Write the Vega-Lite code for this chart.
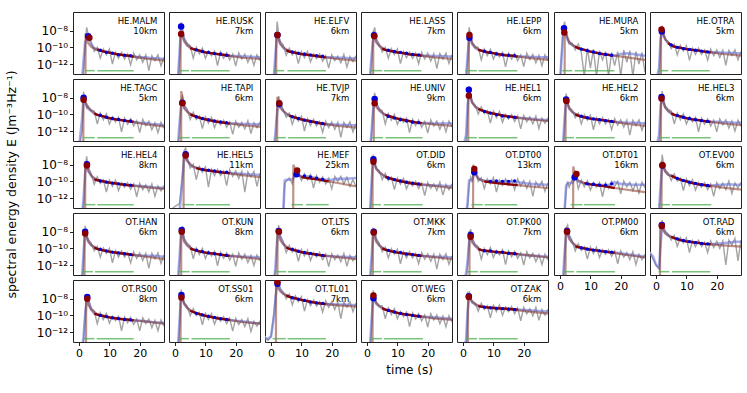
{
"$schema":"https://vega.github.io/schema/vega-lite/v6.json",
"padding":{"left":5,"top":10,"right":5,"bottom":5},
"title":{"text":"time (s)","orient":"bottom","anchor":"middle","fontSize":12,"fontWeight":"normal","font":"DejaVu Sans","offset":6,"dx":36},
"spacing":4,
"data":{"values":[
{"s":1,"t":0,"g":-14,"b":-14},{"s":1,"t":1,"g":-14,"b":-14},{"s":1,"t":1.5,"g":-12.5,"b":-11.5},{"s":1,"t":2,"g":-9.8,"b":-9.5},{"s":1,"t":2.5,"g":-7.6,"b":-8.9},{"s":1,"t":3,"g":-8.4,"b":-8.65,"m":-9.5},{"s":1,"t":4,"g":-9.4,"b":-9.6,"m":-9.95},{"s":1,"t":5,"g":-10.5,"b":-10.1},{"s":1,"t":6,"g":-10,"b":-10.3,"m":-10.3,"r":-10.25},{"s":1,"t":7,"g":-11.3,"d":-10.35},{"s":1,"t":8,"g":-10.2,"b":-10.5,"r":-10.47},{"s":1,"t":9,"g":-10.9,"d":-10.6},{"s":1,"t":10,"g":-10.2,"b":-10.6,"m":-10.65,"r":-10.64},{"s":1,"t":11,"g":-12,"d":-10.7},{"s":1,"t":12,"g":-10.6,"b":-10.8,"r":-10.78},{"s":1,"t":13,"g":-11.3,"d":-10.9},{"s":1,"t":14,"g":-10.6,"b":-10.9,"r":-10.9},{"s":1,"t":15,"g":-11.4,"d":-10.95},{"s":1,"t":16,"g":-10.8,"b":-11,"m":-11,"r":-11},{"s":1,"t":17,"g":-12.1,"d":-11},{"s":1,"t":18,"g":-10.7,"b":-11.1,"r":-11.1},{"s":1,"t":19,"g":-11.5},{"s":1,"t":20,"g":-10.9,"b":-11.2},{"s":1,"t":21,"g":-11.8},{"s":1,"t":22,"g":-10.9,"b":-11.2,"m":-11.35},{"s":1,"t":23,"g":-12.8},{"s":1,"t":24,"g":-11,"b":-11.3},{"s":1,"t":25,"g":-11.6},{"s":1,"t":26,"g":-10.9,"b":-11.3},{"s":1,"t":27,"g":-12.2},{"s":1,"t":28,"g":-11.2,"b":-11.4,"m":-11.6},{"s":1,"t":2.1,"m":-14},{"s":1,"t":2.15,"m":-8.3},{"s":1,"t":3,"P":-8.65},{"s":1,"t":3.4,"Q":-8.85},{"s":1,"x1":2.1,"x2":5.2},{"s":1,"x1":6,"x2":18},{"s":1,"n":"HE.MALM\n10km"},
{"s":2,"t":0,"g":-14,"b":-14},{"s":2,"t":1,"g":-14,"b":-13.5},{"s":2,"t":1.5,"g":-11,"b":-10.5},{"s":2,"t":2,"g":-7,"b":-7.5},{"s":2,"t":2.5,"g":-7.9,"b":-8.3},{"s":2,"t":3,"g":-8.9,"b":-9.1,"m":-9.3},{"s":2,"t":4,"g":-9.5,"b":-9.7,"m":-9.75},{"s":2,"t":5,"g":-9.8,"b":-10.1,"r":-10.1},{"s":2,"t":6,"g":-11.3,"b":-10.2,"m":-10.2,"r":-10.2},{"s":2,"t":7,"g":-10,"d":-10.3},{"s":2,"t":8,"g":-10.8,"b":-10.4,"r":-10.4},{"s":2,"t":9,"g":-10.1,"d":-10.5},{"s":2,"t":10,"g":-11.3,"b":-10.6,"m":-10.6,"r":-10.6},{"s":2,"t":11,"g":-10.45,"d":-10.6},{"s":2,"t":12,"g":-11,"b":-10.7,"r":-10.7},{"s":2,"t":13,"g":-10.45,"d":-10.75},{"s":2,"t":14,"g":-12.2,"b":-10.8,"r":-10.8},{"s":2,"t":15,"g":-10.55,"d":-10.8},{"s":2,"t":16,"g":-11.3,"b":-10.9,"m":-10.9,"r":-10.9},{"s":2,"t":17,"g":-10.65,"d":-10.95},{"s":2,"t":18,"g":-11.5,"b":-11,"r":-11},{"s":2,"t":19,"g":-10.8},{"s":2,"t":20,"g":-12.25,"b":-11.05},{"s":2,"t":21,"g":-10.65},{"s":2,"t":22,"g":-11.4,"b":-11.1,"m":-11.25},{"s":2,"t":23,"g":-10.8},{"s":2,"t":24,"g":-11.8,"b":-11.1},{"s":2,"t":25,"g":-10.95},{"s":2,"t":26,"g":-12.15,"b":-11.15},{"s":2,"t":27,"g":-10.9},{"s":2,"t":28,"g":-11.6,"b":-11.2,"m":-11.4},{"s":2,"t":1.8,"m":-14},{"s":2,"t":1.85,"m":-8},{"s":2,"t":2,"P":-7.5},{"s":2,"t":2,"Q":-8.4},{"s":2,"x1":1.5,"x2":4.6},{"s":2,"x1":5.2,"x2":18},{"s":2,"n":"HE.RUSK\n7km"},
{"s":3,"t":0,"g":-14,"b":-14},{"s":3,"t":1,"g":-14,"b":-13.2},{"s":3,"t":1.5,"g":-11,"b":-10.5},{"s":3,"t":2,"g":-6.9,"b":-8.5},{"s":3,"t":2.5,"g":-8.4,"b":-8.9},{"s":3,"t":3,"g":-9.3,"b":-9.5,"m":-9.6},{"s":3,"t":4,"g":-9.7,"b":-10,"m":-10},{"s":3,"t":5,"g":-10.95,"b":-10.35,"r":-10.35},{"s":3,"t":6,"g":-10.1,"b":-10.5,"m":-10.45,"r":-10.5},{"s":3,"t":7,"g":-10.9,"d":-10.55},{"s":3,"t":8,"g":-10.45,"b":-10.65,"r":-10.65},{"s":3,"t":9,"g":-11.95,"d":-10.7},{"s":3,"t":10,"g":-10.5,"b":-10.8,"m":-10.8,"r":-10.8},{"s":3,"t":11,"g":-11.25,"d":-10.8},{"s":3,"t":12,"g":-10.5,"b":-10.9,"r":-10.9},{"s":3,"t":13,"g":-11.75,"d":-10.9},{"s":3,"t":14,"g":-10.8,"b":-11,"r":-11},{"s":3,"t":15,"g":-11.35,"d":-11},{"s":3,"t":16,"g":-10.8,"b":-11.1,"m":-11.1,"r":-11.1},{"s":3,"t":17,"g":-11.65,"d":-11.05},{"s":3,"t":18,"g":-11,"b":-11.2,"r":-11.2},{"s":3,"t":19,"g":-12.5},{"s":3,"t":20,"g":-10.9,"b":-11.2},{"s":3,"t":21,"g":-11.6},{"s":3,"t":22,"g":-11.05,"b":-11.25,"m":-11.4},{"s":3,"t":23,"g":-11.85},{"s":3,"t":24,"g":-10.85,"b":-11.25},{"s":3,"t":25,"g":-12.35},{"s":3,"t":26,"g":-11.1,"b":-11.3},{"s":3,"t":27,"g":-11.7},{"s":3,"t":28,"g":-11,"b":-11.3,"m":-11.6},{"s":3,"t":1.7,"m":-14},{"s":3,"t":1.75,"m":-8.2},{"s":3,"t":2.1,"P":-8.5},{"s":3,"t":2.1,"Q":-8.5},{"s":3,"x1":0.8,"x2":4.3},{"s":3,"x1":5.4,"x2":18.1},{"s":3,"n":"HE.ELFV\n6km"},
{"s":4,"t":0,"g":-14,"b":-14},{"s":4,"t":1,"g":-14,"b":-13.5},{"s":4,"t":1.5,"g":-11.5,"b":-11},{"s":4,"t":2,"g":-8.3,"b":-9},{"s":4,"t":2.5,"g":-7.6,"b":-8.6},{"s":4,"t":3,"g":-8.9,"b":-9.2,"m":-9.4},{"s":4,"t":4,"g":-9.6,"b":-9.8,"m":-9.8},{"s":4,"t":5,"g":-10.55,"b":-10.15,"r":-10.15},{"s":4,"t":6,"g":-10,"b":-10.3,"m":-10.3,"r":-10.3},{"s":4,"t":7,"g":-11.3,"d":-10.35},{"s":4,"t":8,"g":-10.15,"b":-10.45,"r":-10.45},{"s":4,"t":9,"g":-10.85,"d":-10.5},{"s":4,"t":10,"g":-10.2,"b":-10.6,"m":-10.6,"r":-10.6},{"s":4,"t":11,"g":-11.95,"d":-10.6},{"s":4,"t":12,"g":-10.5,"b":-10.7,"r":-10.7},{"s":4,"t":13,"g":-11.25,"d":-10.7},{"s":4,"t":14,"g":-10.55,"b":-10.85,"r":-10.85},{"s":4,"t":15,"g":-11.3,"d":-10.85},{"s":4,"t":16,"g":-10.7,"b":-10.9,"m":-10.9,"r":-10.9},{"s":4,"t":17,"g":-11.95,"d":-10.9},{"s":4,"t":18,"g":-10.6,"b":-11,"r":-11},{"s":4,"t":19,"g":-11.4},{"s":4,"t":20,"g":-10.7,"b":-11},{"s":4,"t":21,"g":-11.65},{"s":4,"t":22,"g":-10.75,"b":-11.05,"m":-11.2},{"s":4,"t":23,"g":-12.55},{"s":4,"t":24,"g":-10.75,"b":-11.05},{"s":4,"t":25,"g":-11.4},{"s":4,"t":26,"g":-10.7,"b":-11.1},{"s":4,"t":27,"g":-11.9},{"s":4,"t":28,"g":-10.9,"b":-11.1,"m":-11.4},{"s":4,"t":2,"m":-14},{"s":4,"t":2.05,"m":-8.1},{"s":4,"t":2.3,"P":-8.55},{"s":4,"t":2.4,"Q":-8.65},{"s":4,"x1":1.1,"x2":5},{"s":4,"x1":5.5,"x2":17.9},{"s":4,"n":"HE.LASS\n7km"},
{"s":5,"t":0,"g":-14,"b":-14},{"s":5,"t":1,"g":-14,"b":-13.5},{"s":5,"t":1.5,"g":-11.5,"b":-11},{"s":5,"t":2,"g":-7.6,"b":-8.9},{"s":5,"t":2.5,"g":-8.6,"b":-9.1},{"s":5,"t":3,"g":-9.4,"b":-9.6,"m":-9.5},{"s":5,"t":4,"g":-9.9,"b":-10.05,"m":-10},{"s":5,"t":5,"g":-10,"b":-10.3,"r":-10.3},{"s":5,"t":6,"g":-11.5,"b":-10.4,"m":-10.4,"r":-10.4},{"s":5,"t":7,"g":-10.2,"d":-10.45},{"s":5,"t":8,"g":-11,"b":-10.6,"r":-10.6},{"s":5,"t":9,"g":-10.25,"d":-10.6},{"s":5,"t":10,"g":-11.4,"b":-10.7,"m":-10.7,"r":-10.7},{"s":5,"t":11,"g":-10.6,"d":-10.8},{"s":5,"t":12,"g":-11.15,"b":-10.85,"r":-10.85},{"s":5,"t":13,"g":-10.6,"d":-10.9},{"s":5,"t":14,"g":-12.35,"b":-10.95,"r":-10.95},{"s":5,"t":15,"g":-10.7,"d":-10.95},{"s":5,"t":16,"g":-11.4,"b":-11,"m":-11,"r":-11},{"s":5,"t":17,"g":-10.75,"d":-11},{"s":5,"t":18,"g":-11.6,"b":-11.1,"r":-11.1},{"s":5,"t":19,"g":-10.9},{"s":5,"t":20,"g":-12.3,"b":-11.1},{"s":5,"t":21,"g":-10.7},{"s":5,"t":22,"g":-11.45,"b":-11.15,"m":-11.3},{"s":5,"t":23,"g":-10.85},{"s":5,"t":24,"g":-11.85,"b":-11.15},{"s":5,"t":25,"g":-10.95},{"s":5,"t":26,"g":-12.2,"b":-11.2},{"s":5,"t":27,"g":-10.9},{"s":5,"t":28,"g":-11.6,"b":-11.2,"m":-11.5},{"s":5,"t":1.9,"m":-14},{"s":5,"t":1.95,"m":-8.1},{"s":5,"t":2.1,"P":-8.85},{"s":5,"t":2.1,"Q":-8.5},{"s":5,"x1":0.8,"x2":4.6},{"s":5,"x1":5.1,"x2":17.9},{"s":5,"n":"HE.LEPP\n6km"},
{"s":6,"t":0,"g":-14,"b":-14},{"s":6,"t":1,"g":-7.8,"b":-8.3},{"s":6,"t":1.5,"g":-6.9,"b":-7.8},{"s":6,"t":2,"g":-8.3,"b":-8.6},{"s":6,"t":2.5,"g":-9,"b":-9.1},{"s":6,"t":3,"g":-9.6,"b":-9.4,"m":-9.3},{"s":6,"t":4,"g":-9.5,"b":-9.7,"m":-9.7},{"s":6,"t":5,"g":-10.3,"b":-9.9,"r":-9.9},{"s":6,"t":6,"g":-9.6,"b":-10.1,"m":-10.1,"r":-10.1},{"s":6,"t":7,"g":-10.6,"d":-10.2},{"s":6,"t":8,"g":-13.5,"b":-10.3,"r":-10.3},{"s":6,"t":9,"g":-10.1,"d":-10.4},{"s":6,"t":10,"g":-12.5,"b":-10.5,"m":-10.5,"r":-10.5},{"s":6,"t":11,"g":-10.2,"d":-10.55},{"s":6,"t":12,"g":-13.5,"b":-10.65,"r":-10.65},{"s":6,"t":13,"g":-10.4,"d":-10.75},{"s":6,"t":14,"g":-11.5,"b":-10.8,"r":-10.8},{"s":6,"t":15,"g":-10.5,"d":-10.85},{"s":6,"t":16,"g":-13.5,"b":-10.9,"m":-10.9,"r":-10.9},{"s":6,"t":17,"g":-10.6,"d":-10.95,"r":-10.95},{"s":6,"t":18,"g":-12.2,"b":-11},{"s":6,"t":19,"g":-10.5},{"s":6,"t":20,"g":-13.5,"b":-10.8},{"s":6,"t":21,"g":-10.3},{"s":6,"t":22,"g":-11.8,"b":-10.7,"m":-11.2},{"s":6,"t":23,"g":-10.4},{"s":6,"t":24,"g":-13.5,"b":-10.8},{"s":6,"t":25,"g":-10.5},{"s":6,"t":26,"g":-12,"b":-10.9},{"s":6,"t":27,"g":-10.6},{"s":6,"t":28,"g":-13,"b":-11,"m":-11.5},{"s":6,"t":1.5,"m":-14},{"s":6,"t":1.55,"m":-7.9},{"s":6,"t":1.3,"P":-7.7},{"s":6,"t":1.4,"Q":-8.2},{"s":6,"x1":0.7,"x2":4},{"s":6,"x1":4.8,"x2":17.9},{"s":6,"n":"HE.MURA\n5km"},
{"s":7,"t":0,"g":-14,"b":-14},{"s":7,"t":1,"g":-13.5,"b":-12.5},{"s":7,"t":1.5,"g":-8.5,"b":-9},{"s":7,"t":2,"g":-7.4,"b":-8.1},{"s":7,"t":2.5,"g":-8.3,"b":-8.6},{"s":7,"t":3,"g":-9.1,"b":-9,"m":-9},{"s":7,"t":4,"g":-9.3,"b":-9.45,"m":-9.5,"r":-9.5},{"s":7,"t":5,"g":-10.15,"b":-9.75,"r":-9.75,"d":-9.7},{"s":7,"t":6,"g":-9.6,"b":-9.9,"m":-9.9,"r":-9.9},{"s":7,"t":7,"g":-10.9,"d":-10},{"s":7,"t":8,"g":-9.75,"b":-10.05,"r":-10.05},{"s":7,"t":9,"g":-10.45,"d":-10.15},{"s":7,"t":10,"g":-9.8,"b":-10.2,"m":-10.2,"r":-10.2},{"s":7,"t":11,"g":-11.55,"d":-10.25},{"s":7,"t":12,"g":-10.1,"b":-10.3,"r":-10.3},{"s":7,"t":13,"g":-10.85,"d":-10.35},{"s":7,"t":14,"g":-10.1,"b":-10.4,"r":-10.4},{"s":7,"t":15,"g":-10.85,"d":-10.45},{"s":7,"t":16,"g":-10.3,"b":-10.5,"m":-10.5,"r":-10.5},{"s":7,"t":17,"g":-11.55,"d":-10.55},{"s":7,"t":18,"g":-10.2,"b":-10.6,"r":-10.6},{"s":7,"t":19,"g":-11},{"s":7,"t":20,"g":-10.3,"b":-10.6},{"s":7,"t":21,"g":-11.2},{"s":7,"t":22,"g":-10.35,"b":-10.65,"m":-10.8},{"s":7,"t":23,"g":-12.15},{"s":7,"t":24,"g":-10.35,"b":-10.65},{"s":7,"t":25,"g":-10.95},{"s":7,"t":26,"g":-10.3,"b":-10.7},{"s":7,"t":27,"g":-11.5},{"s":7,"t":28,"g":-10.5,"b":-10.7,"m":-11},{"s":7,"t":1.6,"m":-14},{"s":7,"t":1.65,"m":-7.7},{"s":7,"t":1.9,"P":-8.1},{"s":7,"t":1.8,"Q":-7.85},{"s":7,"x1":0.7,"x2":4},{"s":7,"x1":5.1,"x2":17.7},{"s":7,"n":"HE.OTRA\n5km"},
{"s":8,"t":0,"g":-14,"b":-14},{"s":8,"t":1,"g":-12,"b":-10.5},{"s":8,"t":1.5,"g":-7.3,"b":-8},{"s":8,"t":2,"g":-8.4,"b":-8.6},{"s":8,"t":2.5,"g":-9.2,"b":-9},{"s":8,"t":3,"g":-9,"b":-9.3,"m":-9.2},{"s":8,"t":4,"g":-9.5,"b":-9.6,"m":-9.55},{"s":8,"t":5,"g":-9.6,"b":-9.9,"r":-9.9},{"s":8,"t":6,"g":-11.15,"b":-10.05,"m":-10.05,"r":-10.05},{"s":8,"t":7,"g":-9.85,"d":-10.1},{"s":8,"t":8,"g":-10.65,"b":-10.25,"r":-10.25},{"s":8,"t":9,"g":-9.95,"d":-10.35},{"s":8,"t":10,"g":-11.15,"b":-10.45,"m":-10.45,"r":-10.45},{"s":8,"t":11,"g":-10.3,"d":-10.5},{"s":8,"t":12,"g":-10.9,"b":-10.6,"r":-10.6},{"s":8,"t":13,"g":-10.35,"d":-10.6},{"s":8,"t":14,"g":-12.1,"b":-10.7,"r":-10.7},{"s":8,"t":15,"g":-10.45,"d":-10.75},{"s":8,"t":16,"g":-11.2,"b":-10.8,"m":-10.8,"r":-10.8},{"s":8,"t":17,"g":-10.55,"d":-10.8},{"s":8,"t":18,"g":-11.4,"b":-10.9,"r":-10.9},{"s":8,"t":19,"g":-10.75},{"s":8,"t":20,"g":-12.2,"b":-11},{"s":8,"t":21,"g":-10.6},{"s":8,"t":22,"g":-11.35,"b":-11.05,"m":-11.2},{"s":8,"t":23,"g":-10.8},{"s":8,"t":24,"g":-11.85,"b":-11.15},{"s":8,"t":25,"g":-11},{"s":8,"t":26,"g":-12.2,"b":-11.2},{"s":8,"t":27,"g":-10.95},{"s":8,"t":28,"g":-11.7,"b":-11.3,"m":-11.45},{"s":8,"t":1.4,"m":-14},{"s":8,"t":1.45,"m":-8},{"s":8,"t":1.5,"P":-8},{"s":8,"t":1.5,"Q":-8.25},{"s":8,"x1":1.5,"x2":5.2},{"s":8,"x1":6,"x2":18},{"s":8,"n":"HE.TAGC\n5km"},
{"s":9,"t":0,"g":-14,"b":-14},{"s":9,"t":1,"g":-14,"b":-13.5},{"s":9,"t":1.5,"g":-11.5,"b":-11},{"s":9,"t":2,"g":-8.2,"b":-9},{"s":9,"t":2.5,"g":-7.8,"b":-8.6},{"s":9,"t":3,"g":-8.9,"b":-9.1,"m":-9.3},{"s":9,"t":4,"g":-9.4,"b":-9.6,"m":-9.7},{"s":9,"t":5,"g":-10.6,"b":-10,"r":-10},{"s":9,"t":6,"g":-9.75,"b":-10.15,"m":-10.15,"r":-10.15},{"s":9,"t":7,"g":-10.6,"d":-10.3},{"s":9,"t":8,"g":-10.2,"b":-10.4,"r":-10.4},{"s":9,"t":9,"g":-11.7,"d":-10.5},{"s":9,"t":10,"g":-10.3,"b":-10.6,"m":-10.6,"r":-10.6},{"s":9,"t":11,"g":-11.05,"d":-10.65},{"s":9,"t":12,"g":-10.35,"b":-10.75,"r":-10.75},{"s":9,"t":13,"g":-11.6,"d":-10.8},{"s":9,"t":14,"g":-10.7,"b":-10.9,"r":-10.9},{"s":9,"t":15,"g":-11.25,"d":-10.9},{"s":9,"t":16,"g":-10.7,"b":-11,"m":-11,"r":-11},{"s":9,"t":17,"g":-11.55,"d":-11},{"s":9,"t":18,"g":-10.9,"b":-11.1,"r":-11.1},{"s":9,"t":19,"g":-12.4},{"s":9,"t":20,"g":-10.8,"b":-11.1},{"s":9,"t":21,"g":-11.55},{"s":9,"t":22,"g":-10.95,"b":-11.15,"m":-11.3},{"s":9,"t":23,"g":-11.75},{"s":9,"t":24,"g":-10.75,"b":-11.15},{"s":9,"t":25,"g":-12.3},{"s":9,"t":26,"g":-11,"b":-11.2},{"s":9,"t":27,"g":-11.6},{"s":9,"t":28,"g":-10.9,"b":-11.2,"m":-11.5},{"s":9,"t":2,"m":-14},{"s":9,"t":2.05,"m":-7.2},{"s":9,"t":2.4,"P":-8.6},{"s":9,"t":2.4,"Q":-8.65},{"s":9,"x1":1.2,"x2":4.9},{"s":9,"x1":5.6,"x2":18},{"s":9,"n":"HE.TAPI\n6km"},
{"s":10,"t":0,"g":-14,"b":-14},{"s":10,"t":1,"g":-14,"b":-14},{"s":10,"t":1.5,"g":-12.5,"b":-12},{"s":10,"t":2,"g":-9,"b":-9.8},{"s":10,"t":2.5,"g":-7.8,"b":-8.9},{"s":10,"t":3,"g":-8.5,"b":-9,"m":-9.2},{"s":10,"t":4,"g":-9.4,"b":-9.6,"m":-9.6},{"s":10,"t":5,"g":-10.35,"b":-9.95},{"s":10,"t":6,"g":-9.85,"b":-10.15,"m":-10.15,"r":-10.15},{"s":10,"t":7,"g":-11.2,"d":-10.3},{"s":10,"t":8,"g":-10.1,"b":-10.4,"r":-10.4},{"s":10,"t":9,"g":-10.8,"d":-10.5},{"s":10,"t":10,"g":-10.2,"b":-10.6,"m":-10.6,"r":-10.6},{"s":10,"t":11,"g":-12,"d":-10.7},{"s":10,"t":12,"g":-10.55,"b":-10.75,"r":-10.75},{"s":10,"t":13,"g":-11.35,"d":-10.85},{"s":10,"t":14,"g":-10.6,"b":-10.9,"r":-10.9},{"s":10,"t":15,"g":-11.4,"d":-11},{"s":10,"t":16,"g":-10.85,"b":-11.05,"m":-11.05,"r":-11.05},{"s":10,"t":17,"g":-12.15,"d":-11.1},{"s":10,"t":18,"g":-10.8,"b":-11.2,"r":-11.2},{"s":10,"t":19,"g":-11.6},{"s":10,"t":20,"g":-10.9,"b":-11.2},{"s":10,"t":21,"g":-11.8},{"s":10,"t":22,"g":-10.95,"b":-11.25,"m":-11.4},{"s":10,"t":23,"g":-12.75},{"s":10,"t":24,"g":-10.95,"b":-11.25},{"s":10,"t":25,"g":-11.55},{"s":10,"t":26,"g":-10.9,"b":-11.3},{"s":10,"t":27,"g":-12.1},{"s":10,"t":28,"g":-11.1,"b":-11.3,"m":-11.6},{"s":10,"t":2,"m":-14},{"s":10,"t":2.05,"m":-7.9},{"s":10,"t":2.7,"P":-8.75},{"s":10,"t":2.7,"Q":-8.65},{"s":10,"x1":1.2,"x2":4.9},{"s":10,"x1":5.6,"x2":18.1},{"s":10,"n":"HE.TVJP\n7km"},
{"s":11,"t":0,"g":-14,"b":-14},{"s":11,"t":1,"g":-14,"b":-14},{"s":11,"t":1.5,"g":-12.5,"b":-12},{"s":11,"t":2,"g":-9,"b":-9.5},{"s":11,"t":2.5,"g":-7.4,"b":-8.15},{"s":11,"t":3,"g":-8.6,"b":-8.8,"m":-9.1},{"s":11,"t":4,"g":-9.3,"b":-9.5,"m":-9.5},{"s":11,"t":5,"g":-9.55,"b":-9.85},{"s":11,"t":6,"g":-11.15,"b":-10.05,"m":-10.05,"r":-10.05},{"s":11,"t":7,"g":-9.9,"d":-10.25},{"s":11,"t":8,"g":-10.7,"b":-10.3,"r":-10.3},{"s":11,"t":9,"g":-10,"d":-10.45},{"s":11,"t":10,"g":-11.2,"b":-10.5,"m":-10.5,"r":-10.5},{"s":11,"t":11,"g":-10.4,"d":-10.65},{"s":11,"t":12,"g":-10.95,"b":-10.65,"r":-10.65},{"s":11,"t":13,"g":-10.45,"d":-10.8},{"s":11,"t":14,"g":-12.2,"b":-10.8,"r":-10.8},{"s":11,"t":15,"g":-10.6,"d":-10.95},{"s":11,"t":16,"g":-11.35,"b":-10.95,"m":-10.95,"r":-10.95},{"s":11,"t":17,"g":-10.7,"d":-11},{"s":11,"t":18,"g":-11.55,"b":-11.05,"r":-11.05},{"s":11,"t":19,"g":-10.85},{"s":11,"t":20,"g":-12.25,"b":-11.05},{"s":11,"t":21,"g":-10.65},{"s":11,"t":22,"g":-11.4,"b":-11.1,"m":-11.2},{"s":11,"t":23,"g":-10.8},{"s":11,"t":24,"g":-11.8,"b":-11.1},{"s":11,"t":25,"g":-10.9},{"s":11,"t":26,"g":-12.1,"b":-11.1},{"s":11,"t":27,"g":-10.8},{"s":11,"t":28,"g":-11.5,"b":-11.1,"m":-11.4},{"s":11,"t":2.2,"m":-14},{"s":11,"t":2.25,"m":-7.9},{"s":11,"t":2.5,"P":-8.15},{"s":11,"t":2.5,"Q":-8.65},{"s":11,"x1":1.6,"x2":5.3},{"s":11,"x1":6.1,"x2":18.3},{"s":11,"n":"HE.UNIV\n9km"},
{"s":12,"t":0,"g":-14,"b":-14},{"s":12,"t":1,"g":-13.5,"b":-12.5},{"s":12,"t":1.5,"g":-9.5,"b":-9},{"s":12,"t":2,"g":-6.6,"b":-7.05},{"s":12,"t":2.5,"g":-7.6,"b":-7.9},{"s":12,"t":3,"g":-8.6,"b":-8.5,"m":-8.6},{"s":12,"t":4,"g":-8.9,"b":-9.1,"m":-9.05},{"s":12,"t":5,"g":-9.95,"b":-9.35,"r":-9.35},{"s":12,"t":6,"g":-9.1,"b":-9.5,"m":-9.5,"r":-9.5},{"s":12,"t":7,"g":-9.9,"d":-9.65},{"s":12,"t":8,"g":-9.55,"b":-9.75,"r":-9.75},{"s":12,"t":9,"g":-11.05,"d":-9.85},{"s":12,"t":10,"g":-9.6,"b":-9.9,"m":-9.9,"r":-9.9},{"s":12,"t":11,"g":-10.4,"d":-10.05},{"s":12,"t":12,"g":-9.65,"b":-10.05,"r":-10.05},{"s":12,"t":13,"g":-10.95,"d":-10.2},{"s":12,"t":14,"g":-10,"b":-10.2,"r":-10.2},{"s":12,"t":15,"g":-10.55,"d":-10.3},{"s":12,"t":16,"g":-10,"b":-10.3,"m":-10.3,"r":-10.3},{"s":12,"t":17,"g":-10.85,"d":-10.35},{"s":12,"t":18,"g":-10.2,"b":-10.4,"r":-10.4},{"s":12,"t":19,"g":-11.75},{"s":12,"t":20,"g":-10.15,"b":-10.45},{"s":12,"t":21,"g":-10.9},{"s":12,"t":22,"g":-10.3,"b":-10.5,"m":-10.6},{"s":12,"t":23,"g":-11.15},{"s":12,"t":24,"g":-10.2,"b":-10.6},{"s":12,"t":25,"g":-11.7},{"s":12,"t":26,"g":-10.45,"b":-10.65},{"s":12,"t":27,"g":-11.05},{"s":12,"t":28,"g":-10.4,"b":-10.7,"m":-10.8},{"s":12,"t":1.7,"m":-14},{"s":12,"t":1.75,"m":-7.3},{"s":12,"t":1.9,"P":-7.05},{"s":12,"t":1.9,"Q":-7.75},{"s":12,"x1":0.8,"x2":4.6},{"s":12,"x1":5.1,"x2":17.9},{"s":12,"n":"HE.HEL1\n6km"},
{"s":13,"t":0,"g":-14,"b":-14},{"s":13,"t":1,"g":-14,"b":-13.5},{"s":13,"t":1.5,"g":-11,"b":-10.5},{"s":13,"t":2,"g":-7.5,"b":-8.2},{"s":13,"t":2.5,"g":-8.5,"b":-8.8},{"s":13,"t":3,"g":-9.1,"b":-9.3,"m":-9.3},{"s":13,"t":4,"g":-9.5,"b":-9.7,"m":-9.7},{"s":13,"t":5,"g":-10.4,"b":-10,"r":-10},{"s":13,"t":6,"g":-9.85,"b":-10.15,"m":-10.15,"r":-10.15},{"s":13,"t":7,"g":-11.15,"d":-10.2},{"s":13,"t":8,"g":-10.05,"b":-10.35,"r":-10.35},{"s":13,"t":9,"g":-10.7,"d":-10.4},{"s":13,"t":10,"g":-10.1,"b":-10.5,"m":-10.5,"r":-10.5},{"s":13,"t":11,"g":-11.85,"d":-10.55},{"s":13,"t":12,"g":-10.4,"b":-10.6,"r":-10.6},{"s":13,"t":13,"g":-11.15,"d":-10.65},{"s":13,"t":14,"g":-10.4,"b":-10.7,"r":-10.7},{"s":13,"t":15,"g":-11.15,"d":-10.75},{"s":13,"t":16,"g":-10.6,"b":-10.8,"m":-10.8,"r":-10.8},{"s":13,"t":17,"g":-11.85,"d":-10.85},{"s":13,"t":18,"g":-10.5,"b":-10.9,"r":-10.9},{"s":13,"t":19,"g":-11.3},{"s":13,"t":20,"g":-10.65,"b":-10.95},{"s":13,"t":21,"g":-11.55},{"s":13,"t":22,"g":-10.7,"b":-11,"m":-11.15},{"s":13,"t":23,"g":-12.5},{"s":13,"t":24,"g":-10.7,"b":-11},{"s":13,"t":25,"g":-11.35},{"s":13,"t":26,"g":-10.65,"b":-11.05},{"s":13,"t":27,"g":-11.9},{"s":13,"t":28,"g":-10.9,"b":-11.1,"m":-11.4},{"s":13,"t":1.8,"m":-14},{"s":13,"t":1.85,"m":-7.9},{"s":13,"t":2,"P":-8.2},{"s":13,"t":2.1,"Q":-8.4},{"s":13,"x1":1,"x2":4.6},{"s":13,"x1":5.2,"x2":18},{"s":13,"n":"HE.HEL2\n6km"},
{"s":14,"t":0,"g":-14,"b":-14},{"s":14,"t":1,"g":-13.5,"b":-12.5},{"s":14,"t":1.5,"g":-9.5,"b":-9},{"s":14,"t":2,"g":-7.2,"b":-8},{"s":14,"t":2.5,"g":-8.2,"b":-8.6},{"s":14,"t":3,"g":-9,"b":-9.1,"m":-9.2},{"s":14,"t":4,"g":-9.4,"b":-9.6,"m":-9.6},{"s":14,"t":5,"g":-9.6,"b":-9.9,"r":-9.9},{"s":14,"t":6,"g":-11.15,"b":-10.05,"m":-10.05,"r":-10.05},{"s":14,"t":7,"g":-9.85,"d":-10.15},{"s":14,"t":8,"g":-10.65,"b":-10.25,"r":-10.25},{"s":14,"t":9,"g":-9.95,"d":-10.35},{"s":14,"t":10,"g":-11.15,"b":-10.45,"m":-10.45,"r":-10.45},{"s":14,"t":11,"g":-10.3,"d":-10.5},{"s":14,"t":12,"g":-10.9,"b":-10.6,"r":-10.6},{"s":14,"t":13,"g":-10.35,"d":-10.65},{"s":14,"t":14,"g":-12.1,"b":-10.7,"r":-10.7},{"s":14,"t":15,"g":-10.45,"d":-10.75},{"s":14,"t":16,"g":-11.2,"b":-10.8,"m":-10.8,"r":-10.8},{"s":14,"t":17,"g":-10.55,"d":-10.85},{"s":14,"t":18,"g":-11.4,"b":-10.9,"r":-10.9},{"s":14,"t":19,"g":-10.7},{"s":14,"t":20,"g":-12.1,"b":-10.9},{"s":14,"t":21,"g":-10.55},{"s":14,"t":22,"g":-11.25,"b":-10.95,"m":-11.1},{"s":14,"t":23,"g":-10.65},{"s":14,"t":24,"g":-11.65,"b":-10.95},{"s":14,"t":25,"g":-10.8},{"s":14,"t":26,"g":-12,"b":-11},{"s":14,"t":27,"g":-10.7},{"s":14,"t":28,"g":-11.4,"b":-11,"m":-11.3},{"s":14,"t":1.6,"m":-14},{"s":14,"t":1.65,"m":-7.7},{"s":14,"t":1.8,"P":-7.9},{"s":14,"t":1.8,"Q":-8.1},{"s":14,"x1":1,"x2":4.6},{"s":14,"x1":5.2,"x2":18},{"s":14,"n":"HE.HEL3\n6km"},
{"s":15,"t":0,"g":-14,"b":-14},{"s":15,"t":1,"g":-14,"b":-14},{"s":15,"t":1.5,"g":-12.5,"b":-12},{"s":15,"t":2,"g":-8.5,"b":-9},{"s":15,"t":2.5,"g":-7,"b":-8},{"s":15,"t":3,"g":-8.3,"b":-8.5,"m":-8.8},{"s":15,"t":4,"g":-9.1,"b":-9.3,"m":-9.3},{"s":15,"t":5,"g":-10.35,"b":-9.75,"r":-9.75},{"s":15,"t":6,"g":-9.45,"b":-9.85,"m":-9.85,"r":-9.85},{"s":15,"t":7,"g":-10.25,"d":-9.95},{"s":15,"t":8,"g":-9.8,"b":-10,"r":-10},{"s":15,"t":9,"g":-11.3,"d":-10.1},{"s":15,"t":10,"g":-9.85,"b":-10.15,"m":-10.15,"r":-10.15},{"s":15,"t":11,"g":-10.6,"d":-10.2},{"s":15,"t":12,"g":-9.85,"b":-10.25,"r":-10.25},{"s":15,"t":13,"g":-11.1,"d":-10.3},{"s":15,"t":14,"g":-10.15,"b":-10.35,"r":-10.35},{"s":15,"t":15,"g":-10.7,"d":-10.4},{"s":15,"t":16,"g":-10.15,"b":-10.45,"m":-10.45,"r":-10.45},{"s":15,"t":17,"g":-10.95,"d":-10.45},{"s":15,"t":18,"g":-10.3,"b":-10.5,"r":-10.5},{"s":15,"t":19,"g":-11.85},{"s":15,"t":20,"g":-10.25,"b":-10.55},{"s":15,"t":21,"g":-11},{"s":15,"t":22,"g":-10.4,"b":-10.6,"m":-10.7},{"s":15,"t":23,"g":-11.25},{"s":15,"t":24,"g":-10.3,"b":-10.7},{"s":15,"t":25,"g":-11.8},{"s":15,"t":26,"g":-10.55,"b":-10.75},{"s":15,"t":27,"g":-11.15},{"s":15,"t":28,"g":-10.5,"b":-10.8,"m":-10.9},{"s":15,"t":2,"m":-14},{"s":15,"t":2.05,"m":-7.6},{"s":15,"t":2.6,"P":-7.95},{"s":15,"t":2.6,"Q":-8.1},{"s":15,"x1":1.5,"x2":5.4},{"s":15,"x1":6,"x2":18},{"s":15,"n":"HE.HEL4\n8km"},
{"s":16,"t":-2,"g":-13.6},{"s":16,"t":0,"g":-13},{"s":16,"t":1,"g":-12.8,"b":-14},{"s":16,"t":1.5,"g":-12.6,"b":-13.5},{"s":16,"t":2,"g":-11,"b":-11.5},{"s":16,"t":2.5,"g":-9,"b":-9.3},{"s":16,"t":3,"g":-6.3,"b":-7.3,"m":-7},{"s":16,"t":3.5,"g":-6,"b":-6.75},{"s":16,"t":4,"g":-7.2,"b":-7.4,"m":-7.6},{"s":16,"t":5,"g":-8.4,"b":-8},{"s":16,"t":6,"g":-7.95,"b":-8.25,"m":-8.25},{"s":16,"t":7,"g":-9.8,"r":-8.4},{"s":16,"t":8,"g":-8.2,"b":-8.5,"r":-8.5},{"s":16,"t":9,"g":-8.9,"d":-8.55},{"s":16,"t":10,"g":-8.25,"b":-8.65,"m":-8.65,"r":-8.65},{"s":16,"t":11,"g":-10.7,"d":-8.65},{"s":16,"t":12,"g":-8.55,"b":-8.75,"r":-8.75},{"s":16,"t":13,"g":-9.3,"d":-8.75},{"s":16,"t":14,"g":-8.55,"b":-8.85,"r":-8.85},{"s":16,"t":15,"g":-9.3,"d":-8.85},{"s":16,"t":16,"g":-8.75,"b":-8.95,"m":-8.95,"r":-8.95},{"s":16,"t":17,"g":-10.5,"d":-8.9},{"s":16,"t":18,"g":-8.6,"b":-9,"r":-9},{"s":16,"t":19,"g":-9.4},{"s":16,"t":20,"g":-8.75,"b":-9.05},{"s":16,"t":21,"g":-9.65},{"s":16,"t":22,"g":-8.8,"b":-9.1,"m":-9.25},{"s":16,"t":23,"g":-11.3},{"s":16,"t":24,"g":-8.85,"b":-9.15},{"s":16,"t":25,"g":-9.45},{"s":16,"t":26,"g":-8.8,"b":-9.2},{"s":16,"t":27,"g":-10.6},{"s":16,"t":28,"g":-9,"b":-9.2,"m":-9.5},{"s":16,"t":2.8,"m":-14},{"s":16,"t":2.85,"m":-6.7},{"s":16,"t":3.5,"P":-6.75},{"s":16,"t":3.5,"Q":-6.9},{"s":16,"x1":2.5,"x2":6.3},{"s":16,"x1":6.9,"x2":18.1},{"s":16,"n":"HE.HEL5\n11km"},
{"s":17,"t":4,"g":-14,"b":-14},{"s":17,"t":4.5,"g":-10.2,"b":-9.9},{"s":17,"t":5,"g":-10,"b":-9.8},{"s":17,"t":6,"g":-9.6,"b":-9.8},{"s":17,"t":7,"g":-10.3,"b":-9.75},{"s":17,"t":8,"g":-8.6,"b":-9.3,"m":-8.6},{"s":17,"t":9,"g":-9,"b":-9.3,"m":-9.2},{"s":17,"t":10,"g":-9.9,"b":-9.4,"m":-9.45,"r":-9.5},{"s":17,"t":11,"g":-9.1,"d":-9.35},{"s":17,"t":12,"g":-9.8,"b":-9.4,"r":-9.6},{"s":17,"t":13,"g":-9.2,"d":-9.45},{"s":17,"t":14,"g":-10.8,"b":-9.55,"m":-9.7,"r":-9.7},{"s":17,"t":15,"g":-9.3,"d":-9.6},{"s":17,"t":16,"g":-10.1,"b":-9.7,"r":-9.8},{"s":17,"t":17,"g":-9.45,"d":-9.75},{"s":17,"t":18,"g":-10.3,"b":-9.8,"m":-9.95,"r":-9.95},{"s":17,"t":19,"g":-9.6,"r":-10},{"s":17,"t":20,"g":-10.9,"b":-9.8},{"s":17,"t":21,"g":-9.4},{"s":17,"t":22,"g":-10,"b":-9.7,"m":-10.2},{"s":17,"t":23,"g":-9.4},{"s":17,"t":24,"g":-10.3,"b":-9.7},{"s":17,"t":25,"g":-9.5},{"s":17,"t":26,"g":-10.6,"b":-9.65},{"s":17,"t":27,"g":-9.8},{"s":17,"t":28,"g":-10.6,"b":-9.6,"m":-10.6},{"s":17,"t":7.3,"m":-14},{"s":17,"t":7.35,"m":-8},{"s":17,"t":8.4,"P":-9.15},{"s":17,"t":8.6,"Q":-8.7},{"s":17,"x1":6.7,"x2":10.5},{"s":17,"x1":11.5,"x2":19},{"s":17,"n":"HE.MEF\n25km"},
{"s":18,"t":0,"g":-14,"b":-14},{"s":18,"t":1,"g":-14,"b":-13.5},{"s":18,"t":1.5,"g":-10.5,"b":-10},{"s":18,"t":2,"g":-6.8,"b":-7.4},{"s":18,"t":2.5,"g":-7.5,"b":-7.9},{"s":18,"t":3,"g":-8.5,"b":-8.4,"m":-8.5},{"s":18,"t":4,"g":-8.7,"b":-8.9,"m":-8.9},{"s":18,"t":5,"g":-9.8,"b":-9.2},{"s":18,"t":6,"g":-9.05,"b":-9.45,"m":-9.4,"r":-9.45},{"s":18,"t":7,"g":-9.9,"d":-9.6},{"s":18,"t":8,"g":-9.5,"b":-9.7,"r":-9.7},{"s":18,"t":9,"g":-11,"d":-9.8},{"s":18,"t":10,"g":-9.6,"b":-9.9,"m":-9.85,"r":-9.9},{"s":18,"t":11,"g":-10.35,"d":-9.95},{"s":18,"t":12,"g":-9.65,"b":-10.05,"r":-10.05},{"s":18,"t":13,"g":-10.9,"d":-10.1},{"s":18,"t":14,"g":-10,"b":-10.2,"r":-10.2},{"s":18,"t":15,"g":-10.55,"d":-10.2},{"s":18,"t":16,"g":-10,"b":-10.3,"m":-10.25,"r":-10.3},{"s":18,"t":17,"g":-10.85,"d":-10.3},{"s":18,"t":18,"g":-10.2,"b":-10.4,"r":-10.4},{"s":18,"t":19,"g":-11.7},{"s":18,"t":20,"g":-10.15,"b":-10.45},{"s":18,"t":21,"g":-10.85},{"s":18,"t":22,"g":-10.3,"b":-10.5,"m":-10.55},{"s":18,"t":23,"g":-11.1},{"s":18,"t":24,"g":-10.1,"b":-10.5},{"s":18,"t":25,"g":-11.65},{"s":18,"t":26,"g":-10.35,"b":-10.55},{"s":18,"t":27,"g":-11},{"s":18,"t":28,"g":-10.3,"b":-10.6,"m":-10.8},{"s":18,"t":1.8,"m":-14},{"s":18,"t":1.85,"m":-7.2},{"s":18,"t":2.1,"P":-7.35},{"s":18,"t":2.1,"Q":-7.65},{"s":18,"x1":1.1,"x2":4.6},{"s":18,"x1":5.5,"x2":18.3},{"s":18,"n":"OT.DID\n6km"},
{"s":19,"t":0,"g":-14,"b":-14},{"s":19,"t":1,"g":-14,"b":-14},{"s":19,"t":1.5,"g":-13,"b":-12.5},{"s":19,"t":2,"g":-10.3,"b":-9.9},{"s":19,"t":2.5,"g":-9.5,"b":-9.85},{"s":19,"t":3,"g":-10.1,"b":-9.8},{"s":19,"t":3.5,"g":-8.5,"b":-9.2},{"s":19,"t":4,"g":-8.3,"b":-9,"m":-9.1},{"s":19,"t":5,"g":-10,"b":-9.6,"m":-9.7},{"s":19,"t":6,"g":-9.55,"b":-9.85},{"s":19,"t":7,"g":-10.85,"m":-10,"r":-10},{"s":19,"t":8,"g":-9.7,"b":-10,"r":-10.05},{"s":19,"t":9,"g":-10.3,"d":-10},{"s":19,"t":10,"g":-9.55,"b":-9.95,"r":-10.15},{"s":19,"t":11,"g":-11.3,"d":-9.95},{"s":19,"t":12,"g":-9.85,"b":-10.05,"m":-10.25,"r":-10.25},{"s":19,"t":13,"g":-10.5,"d":-10},{"s":19,"t":14,"g":-9.7,"b":-10,"r":-10.3},{"s":19,"t":15,"g":-10.45,"d":-10},{"s":19,"t":16,"g":-9.8,"b":-10,"r":-10.4},{"s":19,"t":17,"g":-11,"d":-9.95},{"s":19,"t":18,"g":-9.7,"b":-10.1,"m":-10.45,"r":-10.45},{"s":19,"t":19,"g":-10.55},{"s":19,"t":20,"g":-9.9,"b":-10.2},{"s":19,"t":21,"g":-10.85},{"s":19,"t":22,"g":-10,"b":-10.3},{"s":19,"t":23,"g":-11.8,"m":-10.65},{"s":19,"t":24,"g":-10.05,"b":-10.35},{"s":19,"t":25,"g":-10.65},{"s":19,"t":26,"g":-10,"b":-10.4},{"s":19,"t":27,"g":-11.2},{"s":19,"t":28,"g":-10.2,"b":-10.4,"m":-10.8},{"s":19,"t":3.3,"m":-14},{"s":19,"t":3.35,"m":-8},{"s":19,"t":3.7,"P":-8.9},{"s":19,"t":3.7,"Q":-8.5},{"s":19,"x1":2.7,"x2":6.5},{"s":19,"x1":7.1,"x2":17.9},{"s":19,"n":"OT.DT00\n13km"},
{"s":20,"t":0,"g":-14,"b":-14},{"s":20,"t":1,"g":-14,"b":-14},{"s":20,"t":1.5,"g":-13.8,"b":-13.5},{"s":20,"t":2,"g":-11,"b":-10.5},{"s":20,"t":2.5,"g":-10,"b":-10.25},{"s":20,"t":3,"g":-10.7,"b":-10.2},{"s":20,"t":4,"g":-9.8,"b":-10.2},{"s":20,"t":5,"g":-8.9,"b":-9.6,"m":-9.3},{"s":20,"t":6,"g":-10.9,"b":-10,"m":-9.9},{"s":20,"t":7,"g":-9.85},{"s":20,"t":8,"g":-10.65,"b":-10.25,"m":-10.2,"r":-10.2},{"s":20,"t":9,"g":-9.9,"d":-10.3},{"s":20,"t":10,"g":-11.05,"b":-10.35,"r":-10.35},{"s":20,"t":11,"g":-10.15,"d":-10.35},{"s":20,"t":12,"g":-10.7,"b":-10.4,"m":-10.45,"r":-10.45},{"s":20,"t":13,"g":-10.15,"d":-10.45},{"s":20,"t":14,"g":-11.85,"b":-10.45,"r":-10.55},{"s":20,"t":15,"g":-10.2,"d":-10.45},{"s":20,"t":16,"g":-10.85,"b":-10.45,"r":-10.65},{"s":20,"t":17,"g":-10,"d":-10.3},{"s":20,"t":18,"g":-10.6,"b":-10.1,"m":-10.8,"r":-10.8},{"s":20,"t":19,"g":-10},{"s":20,"t":20,"g":-11.5,"b":-10.3},{"s":20,"t":21,"g":-9.95},{"s":20,"t":22,"g":-10.65,"b":-10.35},{"s":20,"t":23,"g":-10.1,"m":-11.05},{"s":20,"t":24,"g":-11.1,"b":-10.4},{"s":20,"t":25,"g":-10.2},{"s":20,"t":26,"g":-11.4,"b":-10.4},{"s":20,"t":27,"g":-10.1},{"s":20,"t":28,"g":-10.8,"b":-10.4,"m":-11.3},{"s":20,"t":4.3,"m":-14},{"s":20,"t":4.35,"m":-8.2},{"s":20,"t":4.8,"P":-9.5},{"s":20,"t":5.4,"Q":-9.1},{"s":20,"x1":3.5,"x2":7.4},{"s":20,"x1":7.9,"x2":18.1},{"s":20,"n":"OT.DT01\n16km"},
{"s":21,"t":0,"g":-14,"b":-14},{"s":21,"t":1,"g":-14,"b":-13.5},{"s":21,"t":1.5,"g":-11,"b":-10.5},{"s":21,"t":2,"g":-6.8,"b":-8.1},{"s":21,"t":2.5,"g":-7.9,"b":-8.4},{"s":21,"t":3,"g":-8.6,"b":-8.8,"m":-8.8},{"s":21,"t":4,"g":-9,"b":-9.2,"m":-9.2},{"s":21,"t":5,"g":-9.9,"b":-9.3,"r":-9.3},{"s":21,"t":6,"g":-9.1,"b":-9.5,"m":-9.5,"r":-9.5},{"s":21,"t":7,"g":-9.95,"d":-9.65},{"s":21,"t":8,"g":-9.6,"b":-9.8,"r":-9.8},{"s":21,"t":9,"g":-11.1,"d":-9.9},{"s":21,"t":10,"g":-9.7,"b":-10,"m":-10,"r":-10},{"s":21,"t":11,"g":-10.5,"d":-10.1},{"s":21,"t":12,"g":-9.8,"b":-10.2,"r":-10.2},{"s":21,"t":13,"g":-11.05,"d":-10.25},{"s":21,"t":14,"g":-10.15,"b":-10.35,"r":-10.35},{"s":21,"t":15,"g":-10.7,"d":-10.4},{"s":21,"t":16,"g":-10.15,"b":-10.45,"m":-10.45,"r":-10.45},{"s":21,"t":17,"g":-11,"d":-10.5},{"s":21,"t":18,"g":-10.3,"b":-10.5,"r":-10.6},{"s":21,"t":19,"g":-11.8},{"s":21,"t":20,"g":-10.15,"b":-10.45},{"s":21,"t":21,"g":-10.85},{"s":21,"t":22,"g":-10.2,"b":-10.4,"m":-10.75},{"s":21,"t":23,"g":-11},{"s":21,"t":24,"g":-9.95,"b":-10.35},{"s":21,"t":25,"g":-11.45},{"s":21,"t":26,"g":-10.2,"b":-10.4},{"s":21,"t":27,"g":-10.8},{"s":21,"t":28,"g":-10.1,"b":-10.4,"m":-11},{"s":21,"t":1.8,"m":-14},{"s":21,"t":1.85,"m":-7.6},{"s":21,"t":2.1,"P":-8.1},{"s":21,"t":2.1,"Q":-8.05},{"s":21,"x1":0.8,"x2":4.6},{"s":21,"x1":5.2,"x2":18.2},{"s":21,"n":"OT.EV00\n6km"},
{"s":22,"t":0,"g":-14,"b":-14},{"s":22,"t":1,"g":-14,"b":-13.5},{"s":22,"t":1.5,"g":-11,"b":-10.5},{"s":22,"t":2,"g":-7.3,"b":-8},{"s":22,"t":2.5,"g":-8.3,"b":-8.6},{"s":22,"t":3,"g":-8.9,"b":-9.1,"m":-9.2},{"s":22,"t":4,"g":-9.4,"b":-9.6,"m":-9.6},{"s":22,"t":5,"g":-10.3,"b":-9.9,"r":-9.9},{"s":22,"t":6,"g":-9.75,"b":-10.05,"m":-10.05,"r":-10.05},{"s":22,"t":7,"g":-11.05,"d":-10.1},{"s":22,"t":8,"g":-9.95,"b":-10.25,"r":-10.25},{"s":22,"t":9,"g":-10.6,"d":-10.3},{"s":22,"t":10,"g":-10,"b":-10.4,"m":-10.4,"r":-10.4},{"s":22,"t":11,"g":-11.75,"d":-10.45},{"s":22,"t":12,"g":-10.3,"b":-10.5,"r":-10.5},{"s":22,"t":13,"g":-11.05,"d":-10.55},{"s":22,"t":14,"g":-10.3,"b":-10.6,"r":-10.6},{"s":22,"t":15,"g":-11.05,"d":-10.65},{"s":22,"t":16,"g":-10.5,"b":-10.7,"m":-10.7,"r":-10.7},{"s":22,"t":17,"g":-11.75,"d":-10.75},{"s":22,"t":18,"g":-10.4,"b":-10.8,"r":-10.8},{"s":22,"t":19,"g":-11.2},{"s":22,"t":20,"g":-10.55,"b":-10.85},{"s":22,"t":21,"g":-11.45},{"s":22,"t":22,"g":-10.6,"b":-10.9,"m":-11},{"s":22,"t":23,"g":-12.4},{"s":22,"t":24,"g":-10.6,"b":-10.9},{"s":22,"t":25,"g":-11.25},{"s":22,"t":26,"g":-10.55,"b":-10.95},{"s":22,"t":27,"g":-11.8},{"s":22,"t":28,"g":-10.8,"b":-11,"m":-11.3},{"s":22,"t":1.8,"m":-14},{"s":22,"t":1.85,"m":-7.8},{"s":22,"t":2,"P":-8},{"s":22,"t":2,"Q":-8.2},{"s":22,"x1":1,"x2":4.6},{"s":22,"x1":5.2,"x2":18},{"s":22,"n":"OT.HAN\n6km"},
{"s":23,"t":0,"g":-14,"b":-14},{"s":23,"t":1,"g":-14,"b":-13.5},{"s":23,"t":1.5,"g":-11.5,"b":-11},{"s":23,"t":2,"g":-7.5,"b":-8},{"s":23,"t":2.5,"g":-7.4,"b":-8.3},{"s":23,"t":3,"g":-8.8,"b":-9,"m":-9.2},{"s":23,"t":4,"g":-9.4,"b":-9.6,"m":-9.65},{"s":23,"t":5,"g":-9.7,"b":-10,"r":-10},{"s":23,"t":6,"g":-11.25,"b":-10.15,"m":-10.15,"r":-10.15},{"s":23,"t":7,"g":-9.95,"d":-10.2},{"s":23,"t":8,"g":-10.75,"b":-10.35,"r":-10.35},{"s":23,"t":9,"g":-10,"d":-10.4},{"s":23,"t":10,"g":-11.2,"b":-10.5,"m":-10.5,"r":-10.5},{"s":23,"t":11,"g":-10.35,"d":-10.55},{"s":23,"t":12,"g":-10.9,"b":-10.6,"r":-10.6},{"s":23,"t":13,"g":-10.35,"d":-10.65},{"s":23,"t":14,"g":-12.1,"b":-10.7,"r":-10.7},{"s":23,"t":15,"g":-10.45,"d":-10.75},{"s":23,"t":16,"g":-11.2,"b":-10.8,"m":-10.8,"r":-10.8},{"s":23,"t":17,"g":-10.55,"d":-10.85},{"s":23,"t":18,"g":-11.4,"b":-10.9,"r":-10.9},{"s":23,"t":19,"g":-10.7},{"s":23,"t":20,"g":-12.15,"b":-10.95},{"s":23,"t":21,"g":-10.55},{"s":23,"t":22,"g":-11.3,"b":-11,"m":-11.05},{"s":23,"t":23,"g":-10.7},{"s":23,"t":24,"g":-11.7,"b":-11},{"s":23,"t":25,"g":-10.85},{"s":23,"t":26,"g":-12.05,"b":-11.05},{"s":23,"t":27,"g":-10.8},{"s":23,"t":28,"g":-11.5,"b":-11.1,"m":-11.3},{"s":23,"t":2,"m":-14},{"s":23,"t":2.05,"m":-7.6},{"s":23,"t":2.2,"P":-7.8},{"s":23,"t":2.2,"Q":-8},{"s":23,"x1":1.2,"x2":4.8},{"s":23,"x1":5.4,"x2":18},{"s":23,"n":"OT.KUN\n8km"},
{"s":24,"t":0,"g":-14,"b":-14},{"s":24,"t":1,"g":-14,"b":-14},{"s":24,"t":1.5,"g":-12.5,"b":-12},{"s":24,"t":2,"g":-8.5,"b":-9},{"s":24,"t":2.5,"g":-7.2,"b":-7.9},{"s":24,"t":3,"g":-8.4,"b":-8.6,"m":-9},{"s":24,"t":4,"g":-9.2,"b":-9.4,"m":-9.5},{"s":24,"t":5,"g":-10.5,"b":-9.9,"r":-9.9},{"s":24,"t":6,"g":-9.65,"b":-10.05,"m":-10.05,"r":-10.05},{"s":24,"t":7,"g":-10.45,"d":-10.1},{"s":24,"t":8,"g":-10.05,"b":-10.25,"r":-10.25},{"s":24,"t":9,"g":-11.55,"d":-10.35},{"s":24,"t":10,"g":-10.15,"b":-10.45,"m":-10.45,"r":-10.45},{"s":24,"t":11,"g":-10.9,"d":-10.5},{"s":24,"t":12,"g":-10.2,"b":-10.6,"r":-10.6},{"s":24,"t":13,"g":-11.45,"d":-10.6},{"s":24,"t":14,"g":-10.5,"b":-10.7,"r":-10.7},{"s":24,"t":15,"g":-11.05,"d":-10.75},{"s":24,"t":16,"g":-10.5,"b":-10.8,"m":-10.8,"r":-10.8},{"s":24,"t":17,"g":-11.35,"d":-10.85},{"s":24,"t":18,"g":-10.7,"b":-10.9,"r":-10.9},{"s":24,"t":19,"g":-12.2},{"s":24,"t":20,"g":-10.65,"b":-10.95},{"s":24,"t":21,"g":-11.35},{"s":24,"t":22,"g":-10.8,"b":-11,"m":-11.05},{"s":24,"t":23,"g":-11.6},{"s":24,"t":24,"g":-10.6,"b":-11},{"s":24,"t":25,"g":-12.15},{"s":24,"t":26,"g":-10.85,"b":-11.05},{"s":24,"t":27,"g":-11.5},{"s":24,"t":28,"g":-10.8,"b":-11.1,"m":-11.3},{"s":24,"t":2.1,"m":-14},{"s":24,"t":2.15,"m":-7.7},{"s":24,"t":2.5,"P":-7.9},{"s":24,"t":2.6,"Q":-8},{"s":24,"x1":1.4,"x2":5},{"s":24,"x1":5.6,"x2":18},{"s":24,"n":"OT.LTS\n6km"},
{"s":25,"t":0,"g":-14,"b":-14},{"s":25,"t":1,"g":-14,"b":-13.5},{"s":25,"t":1.5,"g":-11.5,"b":-11},{"s":25,"t":2,"g":-7.6,"b":-8.2},{"s":25,"t":2.5,"g":-7.7,"b":-8.3},{"s":25,"t":3,"g":-8.8,"b":-9,"m":-9.2},{"s":25,"t":4,"g":-9.4,"b":-9.6,"m":-9.65},{"s":25,"t":5,"g":-10.4,"b":-10,"r":-10},{"s":25,"t":6,"g":-9.85,"b":-10.15,"m":-10.15,"r":-10.15},{"s":25,"t":7,"g":-11.15,"d":-10.25},{"s":25,"t":8,"g":-10.05,"b":-10.35,"r":-10.35},{"s":25,"t":9,"g":-10.7,"d":-10.4},{"s":25,"t":10,"g":-10.1,"b":-10.5,"m":-10.5,"r":-10.5},{"s":25,"t":11,"g":-11.85,"d":-10.5},{"s":25,"t":12,"g":-10.4,"b":-10.6,"r":-10.6},{"s":25,"t":13,"g":-11.15,"d":-10.7},{"s":25,"t":14,"g":-10.4,"b":-10.7,"r":-10.7},{"s":25,"t":15,"g":-11.15,"d":-10.75},{"s":25,"t":16,"g":-10.6,"b":-10.8,"m":-10.8,"r":-10.8},{"s":25,"t":17,"g":-11.85,"d":-10.85},{"s":25,"t":18,"g":-10.5,"b":-10.9,"r":-10.9},{"s":25,"t":19,"g":-11.3},{"s":25,"t":20,"g":-10.65,"b":-10.95},{"s":25,"t":21,"g":-11.55},{"s":25,"t":22,"g":-10.7,"b":-11,"m":-11.05},{"s":25,"t":23,"g":-12.5},{"s":25,"t":24,"g":-10.7,"b":-11},{"s":25,"t":25,"g":-11.35},{"s":25,"t":26,"g":-10.65,"b":-11.05},{"s":25,"t":27,"g":-11.9},{"s":25,"t":28,"g":-10.9,"b":-11.1,"m":-11.3},{"s":25,"t":1.9,"m":-14},{"s":25,"t":1.95,"m":-7.8},{"s":25,"t":2.2,"P":-8},{"s":25,"t":2.2,"Q":-8.1},{"s":25,"x1":1.1,"x2":4.7},{"s":25,"x1":5.3,"x2":18},{"s":25,"n":"OT.MKK\n7km"},
{"s":26,"t":0,"g":-14,"b":-14},{"s":26,"t":1,"g":-14,"b":-13},{"s":26,"t":1.5,"g":-12,"b":-11.5},{"s":26,"t":2,"g":-8.8,"b":-9.3},{"s":26,"t":2.5,"g":-7.7,"b":-8.4},{"s":26,"t":3,"g":-8.8,"b":-9,"m":-9.3},{"s":26,"t":4,"g":-9.5,"b":-9.7,"m":-9.7},{"s":26,"t":5,"g":-9.8,"b":-10.1,"r":-10.1},{"s":26,"t":6,"g":-11.3,"b":-10.2,"m":-10.2,"r":-10.2},{"s":26,"t":7,"g":-10,"d":-10.3},{"s":26,"t":8,"g":-10.75,"b":-10.35,"r":-10.3},{"s":26,"t":9,"g":-9.9,"d":-10.3},{"s":26,"t":10,"g":-11.1,"b":-10.4,"m":-10.4,"r":-10.4},{"s":26,"t":11,"g":-10.25,"d":-10.45},{"s":26,"t":12,"g":-10.8,"b":-10.5,"r":-10.45},{"s":26,"t":13,"g":-10.15,"d":-10.45},{"s":26,"t":14,"g":-11.95,"b":-10.55,"r":-10.55},{"s":26,"t":15,"g":-10.3,"d":-10.6},{"s":26,"t":16,"g":-11,"b":-10.6,"m":-10.6,"r":-10.6},{"s":26,"t":17,"g":-10.35,"d":-10.65},{"s":26,"t":18,"g":-11.2,"b":-10.7,"r":-10.7},{"s":26,"t":19,"g":-10.55},{"s":26,"t":20,"g":-12,"b":-10.8},{"s":26,"t":21,"g":-10.4},{"s":26,"t":22,"g":-11.15,"b":-10.85,"m":-10.85},{"s":26,"t":23,"g":-10.6},{"s":26,"t":24,"g":-11.6,"b":-10.9},{"s":26,"t":25,"g":-10.75},{"s":26,"t":26,"g":-11.95,"b":-10.95},{"s":26,"t":27,"g":-10.7},{"s":26,"t":28,"g":-11.4,"b":-11,"m":-11.1},{"s":26,"t":2.1,"m":-14},{"s":26,"t":2.15,"m":-7.9},{"s":26,"t":2.5,"P":-8.4},{"s":26,"t":2.5,"Q":-8.6},{"s":26,"x1":1.3,"x2":4.9},{"s":26,"x1":5.5,"x2":18},{"s":26,"n":"OT.PK00\n7km"},
{"s":27,"t":0,"g":-14,"b":-14},{"s":27,"t":1,"g":-14,"b":-13.5},{"s":27,"t":1.5,"g":-11,"b":-10.5},{"s":27,"t":2,"g":-7.6,"b":-8.3},{"s":27,"t":2.5,"g":-7.2,"b":-7.9},{"s":27,"t":3,"g":-8.4,"b":-8.6,"m":-8.9},{"s":27,"t":4,"g":-9.1,"b":-9.3,"m":-9.3},{"s":27,"t":5,"g":-10.3,"b":-9.7,"r":-9.75},{"s":27,"t":6,"g":-9.45,"b":-9.85,"m":-9.85,"r":-9.85},{"s":27,"t":7,"g":-10.25,"d":-9.95},{"s":27,"t":8,"g":-9.8,"b":-10,"r":-10},{"s":27,"t":9,"g":-11.3,"d":-10.1},{"s":27,"t":10,"g":-9.85,"b":-10.15,"m":-10.15,"r":-10.15},{"s":27,"t":11,"g":-10.6,"d":-10.2},{"s":27,"t":12,"g":-9.85,"b":-10.25,"r":-10.25},{"s":27,"t":13,"g":-11.1,"d":-10.3},{"s":27,"t":14,"g":-10.15,"b":-10.35,"r":-10.35},{"s":27,"t":15,"g":-10.7,"d":-10.4},{"s":27,"t":16,"g":-10.15,"b":-10.45,"m":-10.45,"r":-10.45},{"s":27,"t":17,"g":-10.95,"d":-10.45},{"s":27,"t":18,"g":-10.3,"b":-10.5,"r":-10.5},{"s":27,"t":19,"g":-11.85},{"s":27,"t":20,"g":-10.3,"b":-10.6},{"s":27,"t":21,"g":-11.05},{"s":27,"t":22,"g":-10.5,"b":-10.7,"m":-10.8},{"s":27,"t":23,"g":-11.35},{"s":27,"t":24,"g":-10.4,"b":-10.8},{"s":27,"t":25,"g":-11.95},{"s":27,"t":26,"g":-10.7,"b":-10.9},{"s":27,"t":27,"g":-11.35},{"s":27,"t":28,"g":-10.7,"b":-11,"m":-11.1},{"s":27,"t":1.8,"m":-14},{"s":27,"t":1.85,"m":-7.5},{"s":27,"t":2.3,"P":-7.9},{"s":27,"t":2.3,"Q":-8},{"s":27,"x1":1,"x2":4.6},{"s":27,"x1":5.4,"x2":18.1},{"s":27,"n":"OT.PM00\n6km"},
{"s":28,"t":-2,"g":-10.4,"b":-10.6},{"s":28,"t":-1,"g":-11.3,"b":-11},{"s":28,"t":0,"g":-12,"b":-12},{"s":28,"t":1,"g":-12.5,"b":-12.3},{"s":28,"t":1.5,"g":-9.5,"b":-9.5},{"s":28,"t":2,"g":-6.6,"b":-7.2,"m":-7.6},{"s":28,"t":2.5,"g":-7.4,"b":-7.7},{"s":28,"t":3,"g":-7.9,"b":-8.1,"m":-8.2},{"s":28,"t":4,"g":-8.3,"b":-8.4,"m":-8.5},{"s":28,"t":5,"g":-9,"b":-8.6,"r":-8.6},{"s":28,"t":6,"g":-8.45,"b":-8.75,"m":-8.8,"r":-8.75},{"s":28,"t":7,"g":-9.75,"d":-8.85},{"s":28,"t":8,"g":-8.7,"b":-9,"r":-9},{"s":28,"t":9,"g":-9.35,"d":-9.05},{"s":28,"t":10,"g":-8.75,"b":-9.15,"m":-9.15,"r":-9.15},{"s":28,"t":11,"g":-10.5,"d":-9.2},{"s":28,"t":12,"g":-9.05,"b":-9.25,"r":-9.25},{"s":28,"t":13,"g":-9.8,"d":-9.3},{"s":28,"t":14,"g":-9.05,"b":-9.35,"r":-9.35},{"s":28,"t":15,"g":-9.8,"d":-9.4},{"s":28,"t":16,"g":-9.25,"b":-9.45,"m":-9.45,"r":-9.45},{"s":28,"t":17,"g":-10.5,"d":-9.45},{"s":28,"t":18,"g":-9.1,"b":-9.5,"r":-9.5},{"s":28,"t":19,"g":-9.9},{"s":28,"t":20,"g":-9.15,"b":-9.45},{"s":28,"t":21,"g":-10},{"s":28,"t":22,"g":-9.1,"b":-9.4,"m":-9.65},{"s":28,"t":23,"g":-12},{"s":28,"t":24,"g":-9,"b":-9.3},{"s":28,"t":25,"g":-9.6},{"s":28,"t":26,"g":-8.8,"b":-9.2},{"s":28,"t":27,"g":-11.5},{"s":28,"t":28,"g":-9,"b":-9.2,"m":-9.8},{"s":28,"t":1.3,"m":-14},{"s":28,"t":1.35,"m":-7},{"s":28,"t":1.9,"P":-7.2},{"s":28,"t":1.9,"Q":-7.3},{"s":28,"x1":0.8,"x2":4.4},{"s":28,"x1":5.2,"x2":17.9},{"s":28,"n":"OT.RAD\n6km"},
{"s":29,"t":0,"g":-14,"b":-14},{"s":29,"t":1,"g":-14,"b":-14},{"s":29,"t":1.5,"g":-13,"b":-12.5},{"s":29,"t":2,"g":-9.5,"b":-10},{"s":29,"t":2.5,"g":-7.6,"b":-8.3},{"s":29,"t":3,"g":-7.9,"b":-8.3,"m":-8.7},{"s":29,"t":4,"g":-9.1,"b":-9.3,"m":-9.3},{"s":29,"t":5,"g":-9.5,"b":-9.8,"r":-9.8},{"s":29,"t":6,"g":-11,"b":-9.9,"m":-9.85,"r":-9.9},{"s":29,"t":7,"g":-9.7,"d":-10},{"s":29,"t":8,"g":-10.5,"b":-10.1,"r":-10.1},{"s":29,"t":9,"g":-9.75,"d":-10.15},{"s":29,"t":10,"g":-10.95,"b":-10.25,"m":-10.2,"r":-10.25},{"s":29,"t":11,"g":-10.1,"d":-10.3},{"s":29,"t":12,"g":-10.65,"b":-10.35,"r":-10.35},{"s":29,"t":13,"g":-10.1,"d":-10.4},{"s":29,"t":14,"g":-11.85,"b":-10.45,"r":-10.45},{"s":29,"t":15,"g":-10.2,"d":-10.5},{"s":29,"t":16,"g":-10.9,"b":-10.5,"m":-10.5,"r":-10.5},{"s":29,"t":17,"g":-10.25,"d":-10.55},{"s":29,"t":18,"g":-11.1,"b":-10.6,"r":-10.6},{"s":29,"t":19,"g":-10.45},{"s":29,"t":20,"g":-11.85,"b":-10.65},{"s":29,"t":21,"g":-10.3},{"s":29,"t":22,"g":-11,"b":-10.7,"m":-10.75},{"s":29,"t":23,"g":-10.45},{"s":29,"t":24,"g":-11.5,"b":-10.8},{"s":29,"t":25,"g":-10.6},{"s":29,"t":26,"g":-11.85,"b":-10.85},{"s":29,"t":27,"g":-10.55},{"s":29,"t":28,"g":-11.3,"b":-10.9,"m":-11},{"s":29,"t":2.3,"m":-14},{"s":29,"t":2.35,"m":-7.8},{"s":29,"t":2.7,"P":-7.8},{"s":29,"t":2.7,"Q":-8},{"s":29,"x1":1.5,"x2":5.1},{"s":29,"x1":5.8,"x2":18},{"s":29,"n":"OT.RS00\n8km"},
{"s":30,"t":0,"g":-14,"b":-14},{"s":30,"t":1,"g":-14,"b":-13.5},{"s":30,"t":1.5,"g":-11,"b":-10.5},{"s":30,"t":2,"g":-6.9,"b":-7.6},{"s":30,"t":2.5,"g":-7.8,"b":-8.1},{"s":30,"t":3,"g":-8.5,"b":-8.6,"m":-8.6},{"s":30,"t":4,"g":-8.9,"b":-9.1,"m":-9.1},{"s":30,"t":5,"g":-10.05,"b":-9.45,"r":-9.45},{"s":30,"t":6,"g":-9.2,"b":-9.6,"m":-9.6,"r":-9.6},{"s":30,"t":7,"g":-10.05,"d":-9.75},{"s":30,"t":8,"g":-9.65,"b":-9.85,"r":-9.85},{"s":30,"t":9,"g":-11.15,"d":-9.95},{"s":30,"t":10,"g":-9.75,"b":-10.05,"m":-10.05,"r":-10.05},{"s":30,"t":11,"g":-10.5,"d":-10.1},{"s":30,"t":12,"g":-9.8,"b":-10.2,"r":-10.2},{"s":30,"t":13,"g":-11.05,"d":-10.25},{"s":30,"t":14,"g":-10.15,"b":-10.35,"r":-10.35},{"s":30,"t":15,"g":-10.7,"d":-10.4},{"s":30,"t":16,"g":-10.15,"b":-10.45,"m":-10.45,"r":-10.45},{"s":30,"t":17,"g":-11,"d":-10.5},{"s":30,"t":18,"g":-10.35,"b":-10.55,"r":-10.55},{"s":30,"t":19,"g":-11.9},{"s":30,"t":20,"g":-10.35,"b":-10.65},{"s":30,"t":21,"g":-11.1},{"s":30,"t":22,"g":-10.5,"b":-10.7,"m":-10.8},{"s":30,"t":23,"g":-11.35},{"s":30,"t":24,"g":-10.4,"b":-10.8},{"s":30,"t":25,"g":-11.95},{"s":30,"t":26,"g":-10.7,"b":-10.9},{"s":30,"t":27,"g":-11.3},{"s":30,"t":28,"g":-10.65,"b":-10.95,"m":-11},{"s":30,"t":1.8,"m":-14},{"s":30,"t":1.85,"m":-7.3},{"s":30,"t":2.1,"P":-7.55},{"s":30,"t":2.1,"Q":-7.85},{"s":30,"x1":1.3,"x2":4.6},{"s":30,"x1":5.4,"x2":18.1},{"s":30,"n":"OT.SS01\n6km"},
{"s":31,"t":-2,"g":-12.5,"b":-12.9},{"s":31,"t":-1,"g":-13,"b":-12.8},{"s":31,"t":0,"g":-12.6,"b":-12.5},{"s":31,"t":1,"g":-9.5,"b":-10},{"s":31,"t":1.5,"g":-7.5,"b":-7.8},{"s":31,"t":2,"g":-5.6,"b":-6.2},{"s":31,"t":2.5,"g":-6,"b":-6.4},{"s":31,"t":3,"g":-6.8,"b":-6.9,"m":-7.1},{"s":31,"t":4,"g":-7.2,"b":-7.35,"m":-7.4},{"s":31,"t":5,"g":-8,"b":-7.6,"r":-7.6},{"s":31,"t":6,"g":-7.45,"b":-7.75,"m":-7.8,"r":-7.75},{"s":31,"t":7,"g":-8.75,"d":-7.9},{"s":31,"t":8,"g":-7.65,"b":-7.95,"r":-7.95},{"s":31,"t":9,"g":-8.35,"d":-8.05},{"s":31,"t":10,"g":-7.75,"b":-8.15,"m":-8.15,"r":-8.15},{"s":31,"t":11,"g":-9.5,"d":-8.2},{"s":31,"t":12,"g":-8.1,"b":-8.3,"r":-8.3},{"s":31,"t":13,"g":-8.85,"d":-8.4},{"s":31,"t":14,"g":-8.15,"b":-8.45,"r":-8.45},{"s":31,"t":15,"g":-8.9,"d":-8.5},{"s":31,"t":16,"g":-8.35,"b":-8.55,"m":-8.55,"r":-8.55},{"s":31,"t":17,"g":-9.6,"d":-8.55},{"s":31,"t":18,"g":-8.25,"b":-8.65,"r":-8.65},{"s":31,"t":19,"g":-9.05},{"s":31,"t":20,"g":-8.35,"b":-8.65},{"s":31,"t":21,"g":-9.3},{"s":31,"t":22,"g":-8.4,"b":-8.7,"m":-8.8},{"s":31,"t":23,"g":-10.4},{"s":31,"t":24,"g":-8.4,"b":-8.7},{"s":31,"t":25,"g":-9},{"s":31,"t":26,"g":-8.35,"b":-8.75},{"s":31,"t":27,"g":-9.55},{"s":31,"t":28,"g":-8.55,"b":-8.75,"m":-8.95},{"s":31,"t":1.6,"m":-14},{"s":31,"t":1.65,"m":-6.3},{"s":31,"t":2.1,"P":-6.2},{"s":31,"t":2.1,"Q":-6},{"s":31,"x1":0.5,"x2":4.9},{"s":31,"x1":5.4,"x2":18.1},{"s":31,"n":"OT.TL01\n7km"},
{"s":32,"t":0,"g":-14,"b":-14},{"s":32,"t":1,"g":-14,"b":-13.5},{"s":32,"t":1.5,"g":-11,"b":-10.5},{"s":32,"t":2,"g":-7,"b":-7.95},{"s":32,"t":2.5,"g":-7.7,"b":-8.2},{"s":32,"t":3,"g":-8.4,"b":-8.6,"m":-8.5},{"s":32,"t":4,"g":-8.8,"b":-8.9,"m":-8.9},{"s":32,"t":5,"g":-8.85,"b":-9.15,"r":-9.15},{"s":32,"t":6,"g":-10.4,"b":-9.3,"m":-9.3,"r":-9.3},{"s":32,"t":7,"g":-9.1,"d":-9.4},{"s":32,"t":8,"g":-9.9,"b":-9.5,"r":-9.5},{"s":32,"t":9,"g":-9.2,"d":-9.6},{"s":32,"t":10,"g":-10.4,"b":-9.7,"m":-9.7,"r":-9.7},{"s":32,"t":11,"g":-9.55,"d":-9.75},{"s":32,"t":12,"g":-10.15,"b":-9.85,"r":-9.85},{"s":32,"t":13,"g":-9.6,"d":-9.9},{"s":32,"t":14,"g":-11.35,"b":-9.95,"r":-9.95},{"s":32,"t":15,"g":-9.7,"d":-10},{"s":32,"t":16,"g":-10.45,"b":-10.05,"m":-10.05,"r":-10.05},{"s":32,"t":17,"g":-9.8,"d":-10.1},{"s":32,"t":18,"g":-10.65,"b":-10.15,"r":-10.15},{"s":32,"t":19,"g":-9.95},{"s":32,"t":20,"g":-11.4,"b":-10.2},{"s":32,"t":21,"g":-9.8},{"s":32,"t":22,"g":-10.55,"b":-10.25,"m":-10.35},{"s":32,"t":23,"g":-9.95},{"s":32,"t":24,"g":-11,"b":-10.3},{"s":32,"t":25,"g":-10.1},{"s":32,"t":26,"g":-11.35,"b":-10.35},{"s":32,"t":27,"g":-10.05},{"s":32,"t":28,"g":-10.8,"b":-10.4,"m":-10.55},{"s":32,"t":1.8,"m":-14},{"s":32,"t":1.85,"m":-7.3},{"s":32,"t":2.1,"P":-7.95},{"s":32,"t":2.1,"Q":-7.6},{"s":32,"x1":1.1,"x2":4.9},{"s":32,"x1":5.5,"x2":18.4},{"s":32,"n":"OT.WEG\n6km"},
{"s":33,"t":0,"g":-14,"b":-14},{"s":33,"t":1,"g":-14,"b":-13},{"s":33,"t":1.5,"g":-10,"b":-9.5},{"s":33,"t":2,"g":-7.1,"b":-7.8},{"s":33,"t":2.5,"g":-7.8,"b":-8.1},{"s":33,"t":3,"g":-8.5,"b":-8.4,"m":-8.3},{"s":33,"t":4,"g":-8.5,"b":-8.7,"m":-8.65},{"s":33,"t":5,"g":-9.5,"b":-8.9,"r":-8.9},{"s":33,"t":6,"g":-8.55,"b":-8.95,"m":-8.95,"r":-8.95},{"s":33,"t":7,"g":-9.3,"d":-9},{"s":33,"t":8,"g":-8.85,"b":-9.05,"r":-9.05},{"s":33,"t":9,"g":-10.3,"d":-9.1},{"s":33,"t":10,"g":-8.8,"b":-9.1,"m":-9.15,"r":-9.1},{"s":33,"t":11,"g":-9.55,"d":-9.15},{"s":33,"t":12,"g":-8.75,"b":-9.15,"r":-9.15},{"s":33,"t":13,"g":-10,"d":-9.2},{"s":33,"t":14,"g":-9,"b":-9.2,"r":-9.2},{"s":33,"t":15,"g":-9.55,"d":-9.25},{"s":33,"t":16,"g":-8.95,"b":-9.25,"m":-9.3,"r":-9.25},{"s":33,"t":17,"g":-9.8,"d":-9.3},{"s":33,"t":18,"g":-9.1,"b":-9.3,"r":-9.3},{"s":33,"t":19,"g":-10.65},{"s":33,"t":20,"g":-9.05,"b":-9.35},{"s":33,"t":21,"g":-9.8},{"s":33,"t":22,"g":-9.2,"b":-9.4,"m":-9.55},{"s":33,"t":23,"g":-10.05},{"s":33,"t":24,"g":-9.05,"b":-9.45},{"s":33,"t":25,"g":-10.6},{"s":33,"t":26,"g":-9.3,"b":-9.5},{"s":33,"t":27,"g":-9.95},{"s":33,"t":28,"g":-9.25,"b":-9.55,"m":-9.8},{"s":33,"t":1.6,"m":-14},{"s":33,"t":1.65,"m":-7.5},{"s":33,"t":1.9,"P":-7.7},{"s":33,"t":1.9,"Q":-7.8},{"s":33,"x1":1,"x2":4.6},{"s":33,"x1":5.2,"x2":18},{"s":33,"n":"OT.ZAK\n6km"}
]},
"hconcat":[
{"transform":[{"filter":"indexof([6,7,13,14,20,21,27,28], datum.s) < 0"}],
"title":{"text":"spectral energy density E (Jm⁻³Hz⁻¹)","orient":"left","anchor":"middle","fontSize":12.5,"fontWeight":"normal","font":"DejaVu Sans","offset":18},
"facet":{"field":"s","type":"ordinal","sort":"ascending","header":{"labels":false,"labelExpr":"''","labelFontSize":1,"labelPadding":0,"title":null}},
"columns":5,"spacing":{"row":5,"column":5},"bounds":"flush",
"spec":{"width":91,"height":62,"layer":[
{"transform":[{"filter":"isValid(datum.g)"}],"mark":{"type":"line","color":"#a4a4a4","strokeWidth":1.4,"clip":true},"encoding":{"x":{"field":"t","type":"quantitative","scale":{"domain":[-2,28],"nice":false,"zero":false},"axis":{"values":[0,10,20],"title":null,"format":"d"}},"y":{"field":"g","type":"quantitative","scale":{"domain":[-13.2,-5.75],"nice":false,"zero":false},"axis":{"values":[-12,-10,-8],"title":null,"labelExpr":"datum.value == -8 ? '10⁻⁸' : datum.value == -10 ? '10⁻¹⁰' : '10⁻¹²'"}}}},
{"transform":[{"filter":"isValid(datum.n)"}],"mark":{"type":"text","align":"right","baseline":"top","fontSize":8.5,"lineBreak":"\n","lineHeight":9.5,"color":"#000","font":"DejaVu Sans"},"encoding":{"x":{"datum":25.8,"type":"quantitative","scale":{"domain":[-2,28],"nice":false,"zero":false},"axis":{"values":[0,10,20],"title":null,"format":"d"}},"y":{"datum":-6.4,"type":"quantitative","scale":{"domain":[-13.2,-5.75],"nice":false,"zero":false},"axis":{"values":[-12,-10,-8],"title":null,"labelExpr":"datum.value == -8 ? '10⁻⁸' : datum.value == -10 ? '10⁻¹⁰' : '10⁻¹²'"}},"text":{"field":"n"}}},
{"transform":[{"filter":"isValid(datum.b)"}],"mark":{"type":"line","color":"#6a74dc","opacity":0.6,"strokeWidth":2.6,"clip":true},"encoding":{"x":{"field":"t","type":"quantitative","scale":{"domain":[-2,28],"nice":false,"zero":false},"axis":{"values":[0,10,20],"title":null,"format":"d"}},"y":{"field":"b","type":"quantitative","scale":{"domain":[-13.2,-5.75],"nice":false,"zero":false},"axis":{"values":[-12,-10,-8],"title":null,"labelExpr":"datum.value == -8 ? '10⁻⁸' : datum.value == -10 ? '10⁻¹⁰' : '10⁻¹²'"}}}},
{"transform":[{"filter":"isValid(datum.m)"}],"mark":{"type":"line","color":"#8b3a2a","opacity":0.55,"strokeWidth":2.2,"clip":true},"encoding":{"x":{"field":"t","type":"quantitative","scale":{"domain":[-2,28],"nice":false,"zero":false},"axis":{"values":[0,10,20],"title":null,"format":"d"}},"y":{"field":"m","type":"quantitative","scale":{"domain":[-13.2,-5.75],"nice":false,"zero":false},"axis":{"values":[-12,-10,-8],"title":null,"labelExpr":"datum.value == -8 ? '10⁻⁸' : datum.value == -10 ? '10⁻¹⁰' : '10⁻¹²'"}}}},
{"transform":[{"filter":"isValid(datum.x1)"}],"mark":{"type":"rule","color":"#4caf50","opacity":0.75,"strokeWidth":1.5,"clip":true},"encoding":{"x":{"field":"x1","type":"quantitative","scale":{"domain":[-2,28],"nice":false,"zero":false},"axis":{"values":[0,10,20],"title":null,"format":"d"}},"x2":{"field":"x2"},"y":{"datum":-12.8,"type":"quantitative","scale":{"domain":[-13.2,-5.75],"nice":false,"zero":false},"axis":{"values":[-12,-10,-8],"title":null,"labelExpr":"datum.value == -8 ? '10⁻⁸' : datum.value == -10 ? '10⁻¹⁰' : '10⁻¹²'"}}}},
{"transform":[{"filter":"isValid(datum.r)"}],"mark":{"type":"line","color":"#8b0000","strokeWidth":2.3,"clip":true},"encoding":{"x":{"field":"t","type":"quantitative","scale":{"domain":[-2,28],"nice":false,"zero":false},"axis":{"values":[0,10,20],"title":null,"format":"d"}},"y":{"field":"r","type":"quantitative","scale":{"domain":[-13.2,-5.75],"nice":false,"zero":false},"axis":{"values":[-12,-10,-8],"title":null,"labelExpr":"datum.value == -8 ? '10⁻⁸' : datum.value == -10 ? '10⁻¹⁰' : '10⁻¹²'"}}}},
{"transform":[{"filter":"isValid(datum.d)"}],"mark":{"type":"circle","color":"#0000dd","size":11,"opacity":1,"clip":true},"encoding":{"x":{"field":"t","type":"quantitative","scale":{"domain":[-2,28],"nice":false,"zero":false},"axis":{"values":[0,10,20],"title":null,"format":"d"}},"y":{"field":"d","type":"quantitative","scale":{"domain":[-13.2,-5.75],"nice":false,"zero":false},"axis":{"values":[-12,-10,-8],"title":null,"labelExpr":"datum.value == -8 ? '10⁻⁸' : datum.value == -10 ? '10⁻¹⁰' : '10⁻¹²'"}}}},
{"transform":[{"filter":"isValid(datum.P)"}],"mark":{"type":"circle","color":"#0000dd","size":42,"opacity":1,"clip":true},"encoding":{"x":{"field":"t","type":"quantitative","scale":{"domain":[-2,28],"nice":false,"zero":false},"axis":{"values":[0,10,20],"title":null,"format":"d"}},"y":{"field":"P","type":"quantitative","scale":{"domain":[-13.2,-5.75],"nice":false,"zero":false},"axis":{"values":[-12,-10,-8],"title":null,"labelExpr":"datum.value == -8 ? '10⁻⁸' : datum.value == -10 ? '10⁻¹⁰' : '10⁻¹²'"}}}},
{"transform":[{"filter":"isValid(datum.Q)"}],"mark":{"type":"circle","color":"#8b0000","size":42,"opacity":1,"clip":true},"encoding":{"x":{"field":"t","type":"quantitative","scale":{"domain":[-2,28],"nice":false,"zero":false},"axis":{"values":[0,10,20],"title":null,"format":"d"}},"y":{"field":"Q","type":"quantitative","scale":{"domain":[-13.2,-5.75],"nice":false,"zero":false},"axis":{"values":[-12,-10,-8],"title":null,"labelExpr":"datum.value == -8 ? '10⁻⁸' : datum.value == -10 ? '10⁻¹⁰' : '10⁻¹²'"}}}}
]}},
{"transform":[{"filter":"indexof([6,7,13,14,20,21,27,28], datum.s) >= 0"}],
"facet":{"field":"s","type":"ordinal","sort":"ascending","header":{"labels":false,"labelExpr":"''","labelFontSize":1,"labelPadding":0,"title":null}},
"columns":2,"spacing":{"row":5,"column":5},"bounds":"flush",
"spec":{"width":91,"height":62,"layer":[
{"transform":[{"filter":"isValid(datum.g)"}],"mark":{"type":"line","color":"#a4a4a4","strokeWidth":1.4,"clip":true},"encoding":{"x":{"field":"t","type":"quantitative","scale":{"domain":[-2,28],"nice":false,"zero":false},"axis":{"values":[0,10,20],"title":null,"format":"d"}},"y":{"field":"g","type":"quantitative","scale":{"domain":[-13.2,-5.75],"nice":false,"zero":false},"axis":null}}},
{"transform":[{"filter":"isValid(datum.n)"}],"mark":{"type":"text","align":"right","baseline":"top","fontSize":8.5,"lineBreak":"\n","lineHeight":9.5,"color":"#000","font":"DejaVu Sans"},"encoding":{"x":{"datum":25.8,"type":"quantitative","scale":{"domain":[-2,28],"nice":false,"zero":false},"axis":{"values":[0,10,20],"title":null,"format":"d"}},"y":{"datum":-6.4,"type":"quantitative","scale":{"domain":[-13.2,-5.75],"nice":false,"zero":false},"axis":null},"text":{"field":"n"}}},
{"transform":[{"filter":"isValid(datum.b)"}],"mark":{"type":"line","color":"#6a74dc","opacity":0.6,"strokeWidth":2.6,"clip":true},"encoding":{"x":{"field":"t","type":"quantitative","scale":{"domain":[-2,28],"nice":false,"zero":false},"axis":{"values":[0,10,20],"title":null,"format":"d"}},"y":{"field":"b","type":"quantitative","scale":{"domain":[-13.2,-5.75],"nice":false,"zero":false},"axis":null}}},
{"transform":[{"filter":"isValid(datum.m)"}],"mark":{"type":"line","color":"#8b3a2a","opacity":0.55,"strokeWidth":2.2,"clip":true},"encoding":{"x":{"field":"t","type":"quantitative","scale":{"domain":[-2,28],"nice":false,"zero":false},"axis":{"values":[0,10,20],"title":null,"format":"d"}},"y":{"field":"m","type":"quantitative","scale":{"domain":[-13.2,-5.75],"nice":false,"zero":false},"axis":null}}},
{"transform":[{"filter":"isValid(datum.x1)"}],"mark":{"type":"rule","color":"#4caf50","opacity":0.75,"strokeWidth":1.5,"clip":true},"encoding":{"x":{"field":"x1","type":"quantitative","scale":{"domain":[-2,28],"nice":false,"zero":false},"axis":{"values":[0,10,20],"title":null,"format":"d"}},"x2":{"field":"x2"},"y":{"datum":-12.8,"type":"quantitative","scale":{"domain":[-13.2,-5.75],"nice":false,"zero":false},"axis":null}}},
{"transform":[{"filter":"isValid(datum.r)"}],"mark":{"type":"line","color":"#8b0000","strokeWidth":2.3,"clip":true},"encoding":{"x":{"field":"t","type":"quantitative","scale":{"domain":[-2,28],"nice":false,"zero":false},"axis":{"values":[0,10,20],"title":null,"format":"d"}},"y":{"field":"r","type":"quantitative","scale":{"domain":[-13.2,-5.75],"nice":false,"zero":false},"axis":null}}},
{"transform":[{"filter":"isValid(datum.d)"}],"mark":{"type":"circle","color":"#0000dd","size":11,"opacity":1,"clip":true},"encoding":{"x":{"field":"t","type":"quantitative","scale":{"domain":[-2,28],"nice":false,"zero":false},"axis":{"values":[0,10,20],"title":null,"format":"d"}},"y":{"field":"d","type":"quantitative","scale":{"domain":[-13.2,-5.75],"nice":false,"zero":false},"axis":null}}},
{"transform":[{"filter":"isValid(datum.P)"}],"mark":{"type":"circle","color":"#0000dd","size":42,"opacity":1,"clip":true},"encoding":{"x":{"field":"t","type":"quantitative","scale":{"domain":[-2,28],"nice":false,"zero":false},"axis":{"values":[0,10,20],"title":null,"format":"d"}},"y":{"field":"P","type":"quantitative","scale":{"domain":[-13.2,-5.75],"nice":false,"zero":false},"axis":null}}},
{"transform":[{"filter":"isValid(datum.Q)"}],"mark":{"type":"circle","color":"#8b0000","size":42,"opacity":1,"clip":true},"encoding":{"x":{"field":"t","type":"quantitative","scale":{"domain":[-2,28],"nice":false,"zero":false},"axis":{"values":[0,10,20],"title":null,"format":"d"}},"y":{"field":"Q","type":"quantitative","scale":{"domain":[-13.2,-5.75],"nice":false,"zero":false},"axis":null}}}
]}}
],
"config":{"font":"DejaVu Sans","view":{"stroke":"#222","strokeWidth":1},"axis":{"grid":false,"domain":false,"ticks":true,"tickColor":"#222","tickSize":3.5,"labelFontSize":12,"labelColor":"#000","labelPadding":2,"labelFont":"DejaVu Sans"},"axisX":{"labelFontSize":11}}
}
